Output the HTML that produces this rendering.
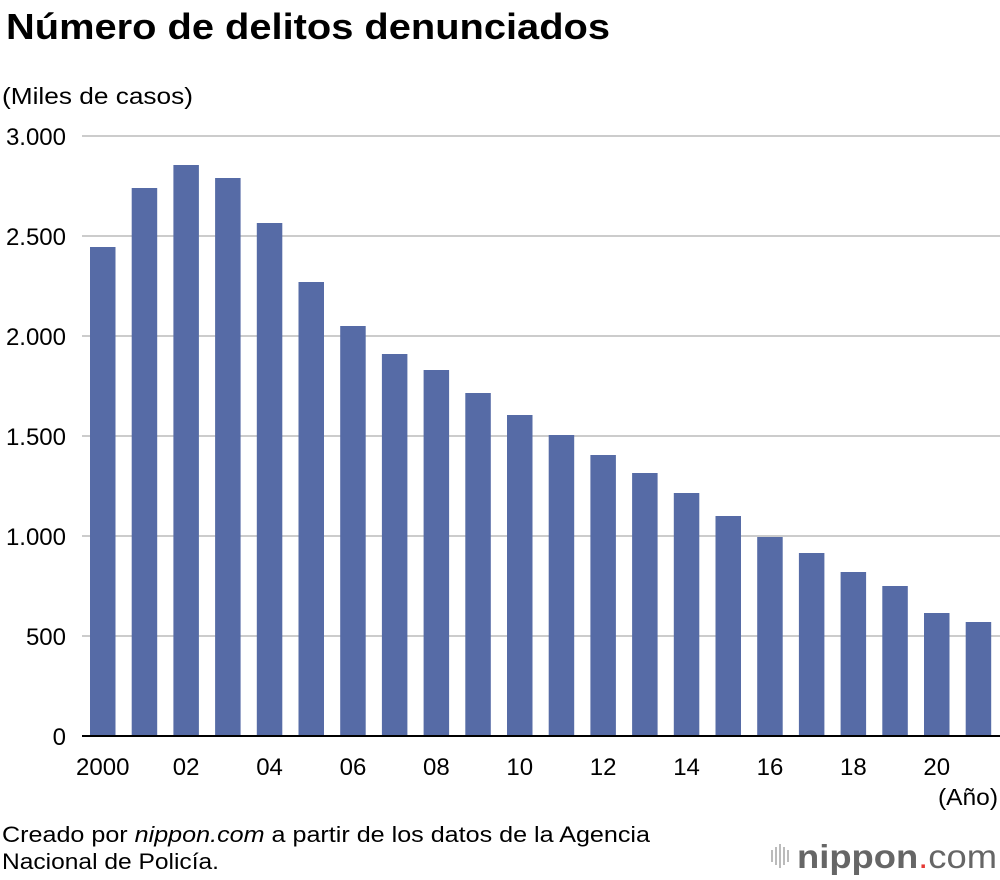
<!DOCTYPE html>
<html><head><meta charset="utf-8"><style>
body{margin:0;background:#fff;width:1000px;height:880px;overflow:hidden;font-family:"Liberation Sans",sans-serif;}
</style></head><body>
<svg width="1000" height="880" style="position:absolute;left:0;top:0">
<text x="6" y="39" font-size="36" font-weight="bold" fill="#000" textLength="604" lengthAdjust="spacingAndGlyphs">Número de delitos denunciados</text>
<text x="2" y="104" font-size="23" fill="#000" textLength="191" lengthAdjust="spacingAndGlyphs">(Miles de casos)</text>
<g id="grid"></g><g id="bars"></g><g id="xt"></g>
<line x1="82" x2="1000" y1="736" y2="736" stroke="#000" stroke-width="2"/>
<text x="998" y="805" font-size="23" text-anchor="end" fill="#000" textLength="60" lengthAdjust="spacingAndGlyphs">(Año)</text>
<text x="2" y="842" font-size="22" fill="#000" textLength="648" lengthAdjust="spacingAndGlyphs">Creado por <tspan font-style="italic">nippon.com</tspan> a partir de los datos de la Agencia</text>
<text x="2" y="869" font-size="22" fill="#000" textLength="217" lengthAdjust="spacingAndGlyphs">Nacional de Policía.</text>
<g fill="#bbb">
<rect x="771" y="850" width="2" height="12"/><rect x="775" y="847" width="2" height="18"/><rect x="779" y="844" width="2" height="24"/><rect x="783" y="847" width="2" height="18"/><rect x="787" y="850" width="2" height="12"/>
</g>
<text x="797" y="868" font-size="33" fill="#666" textLength="200" lengthAdjust="spacingAndGlyphs"><tspan font-weight="bold">nippon</tspan><tspan fill="#e53935">.</tspan><tspan>com</tspan></text>
</svg>
<script>
const years=[2000,2001,2002,2003,2004,2005,2006,2007,2008,2009,2010,2011,2012,2013,2014,2015,2016,2017,2018,2019,2020,2021];
const values=[2445,2740,2855,2790,2565,2270,2050,1910,1830,1715,1605,1505,1405,1315,1215,1100,995,915,820,750,615,570];
const yTicks=[0,500,1000,1500,2000,2500,3000];
const yTickLabels=["0","500","1.000","1.500","2.000","2.500","3.000"];
const xTickLabels=["2000","02","04","06","08","10","12","14","16","18","20"];
const NS="http://www.w3.org/2000/svg";
const y=v=>736-v*0.2;
const x=i=>90+i*41.7;
const grid=document.getElementById('grid'),bars=document.getElementById('bars'),xt=document.getElementById('xt');
yTicks.forEach((t,k)=>{
 if(t>0){const l=document.createElementNS(NS,'line');
 l.setAttribute('x1',82);l.setAttribute('x2',1000);l.setAttribute('y1',y(t));l.setAttribute('y2',y(t));l.setAttribute('stroke','#ccc');l.setAttribute('stroke-width','2');
 
 
 grid.appendChild(l);}
 const tx=document.createElementNS(NS,'text');
 tx.setAttribute('x',66);tx.setAttribute('y',y(t)+9);tx.setAttribute('text-anchor','end');tx.setAttribute('font-size','24');
 tx.setAttribute('font-weight','500');
 tx.textContent=yTickLabels[k];
 
 
 grid.appendChild(tx);
});
values.forEach((v,i)=>{
 const r=document.createElementNS(NS,'rect');
 r.setAttribute('x',x(i));r.setAttribute('width',25.5);r.setAttribute('y',y(v));r.setAttribute('height',736-y(v));r.setAttribute('fill','#566ba6');
 
 
 bars.appendChild(r);
});
xTickLabels.forEach((lab,k)=>{
 const tx=document.createElementNS(NS,'text');
 tx.setAttribute('x',x(k*2)+12.75);tx.setAttribute('y',775);tx.setAttribute('text-anchor','middle');tx.setAttribute('font-size','24');
 tx.textContent=lab;
 
 
 xt.appendChild(tx);
});
</script>
</body></html>
